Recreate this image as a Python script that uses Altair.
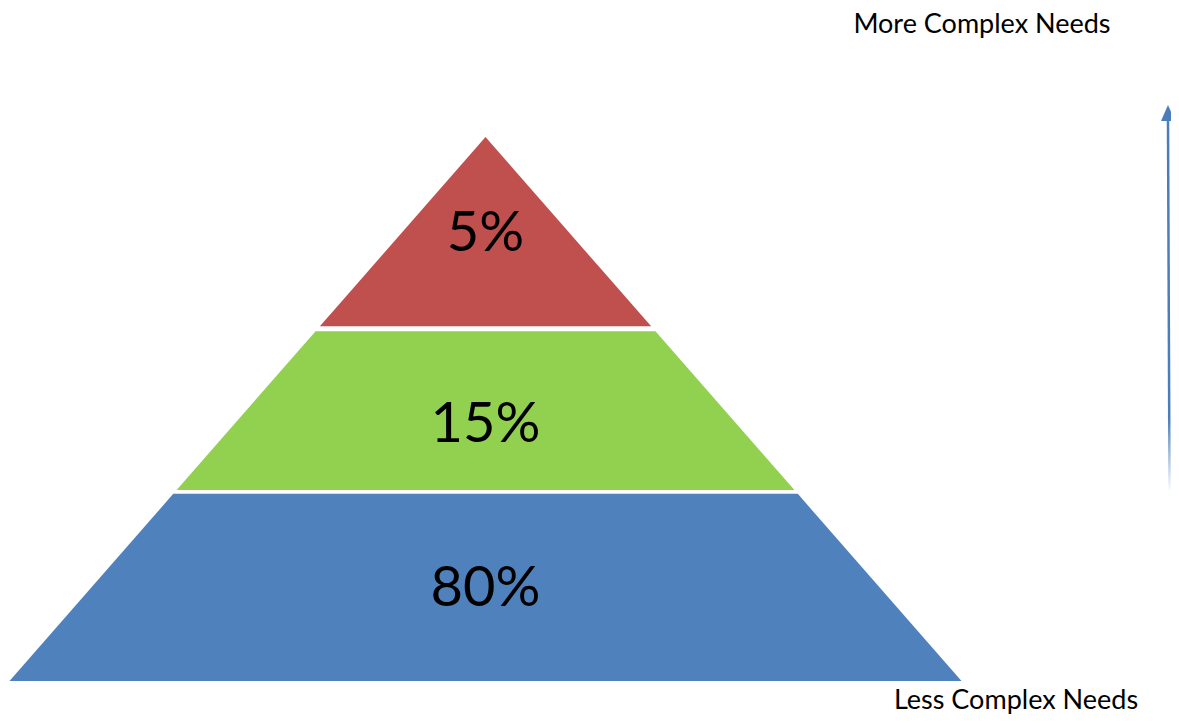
import altair as alt
import pandas as pd

# ---- data -------------------------------------------------------------
layers = ["80%", "15%", "5%"]
layer_bottom = [0.0, 0.351, 0.652]     # fraction of pyramid height
layer_top = [0.344, 0.643, 1.0]
label_height = [0.169, 0.471, 0.822]
layer_colors = ["#4F81BD", "#92D050", "#C0504D"]

top_note = "More Complex Needs"
bottom_note = "Less Complex Needs"

# ---- tables built from the arrays -------------------------------------
rows = []
for name, b, t in zip(layers, layer_bottom, layer_top):
    for v in (b, t):
        rows.append({"layer": name, "v": v, "left": -(1 - v), "right": (1 - v)})
shape_df = pd.DataFrame(rows)

label_df = pd.DataFrame({"layer": layers, "u": [0.0] * 3, "v": label_height})

notes_df = pd.DataFrame({
    "text": [top_note, bottom_note],
    "u": [1.043, 1.1145],
    "v": [1.2060, -0.0360],
})

arrow_df = pd.DataFrame({"u": [1.4370], "v": [0.3474], "u2": [1.4338], "v2": [1.0294]})
head_df = pd.DataFrame({"u": [1.4338], "v": [1.0441]})

# plot occupies page pixels x 8..1171, y 8..715
W, H = 1163, 707
xs = alt.Scale(domain=[-1.0032, 1.4401], nice=False, zero=False)
ys = alt.Scale(domain=[-0.0625, 1.2371], nice=False, zero=False)
X = lambda f: alt.X(f, type="quantitative", scale=xs, axis=None)
Y = lambda f: alt.Y(f, type="quantitative", scale=ys, axis=None)

color = alt.Color("layer:N", scale=alt.Scale(domain=layers, range=layer_colors), legend=None)

shapes = alt.Chart(shape_df).mark_area(orient="horizontal").encode(
    y=Y("v"), x=X("left"), x2=alt.X2("right"), color=color
)

labels = alt.Chart(label_df).mark_text(
    font="Lato", fontSize=56, color="black", align="center", baseline="middle"
).encode(x=X("u"), y=Y("v"), text="layer:N")

notes = alt.Chart(notes_df).mark_text(
    font="Lato", fontSize=27, color="black", align="center", baseline="middle"
).encode(x=X("u"), y=Y("v"), text="text:N")

grad = alt.LinearGradient(
    gradient="linear",
    stops=[
        alt.GradientStop(color="#4A7EBB", offset=0),
        alt.GradientStop(color="#4A7EBB", offset=0.8),
        alt.GradientStop(color="#FFFFFF", offset=1),
    ],
    x1=0, x2=0, y1=0, y2=1,
)
arrow = alt.Chart(arrow_df).mark_rule(stroke=grad, strokeWidth=2.5).encode(
    x=X("u"), y=Y("v"), x2=alt.X2("u2"), y2=alt.Y2("v2")
)
head = alt.Chart(head_df).mark_point(
    shape="M0,-1L0.875,1L-0.875,1Z", size=256, filled=True, color="#4A7EBB", opacity=1
).encode(x=X("u"), y=Y("v"))

chart = alt.layer(shapes, labels, notes, arrow, head).properties(
    width=W, height=H, padding=0, background="white",
    autosize=alt.AutoSizeParams(type="none")
).configure_view(strokeWidth=0, stroke="transparent")

chart.save("out.html", embed_options={"renderer": "svg", "actions": False})
